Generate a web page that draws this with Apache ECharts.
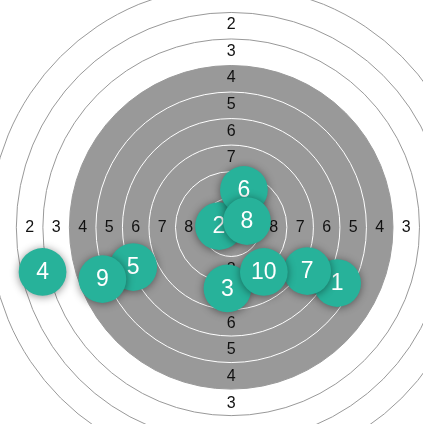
<!DOCTYPE html>
<html>
<head>
<meta charset="utf-8">
<script src="https://cdn.jsdelivr.net/npm/echarts@6/dist/echarts.min.js"></script>
<style>
html,body{margin:0;padding:0;background:#fff;}
#chart{width:423px;height:424px;}
</style>
</head>
<body>
<div id="chart"></div>
<script>
// Ring scores and their outer radii (mm, 10m air rifle target)
const ringScores = [1, 2, 3, 4, 5, 6, 7, 8, 9, 10];
const ringRadii = [22.75, 20.25, 17.75, 15.25, 12.75, 10.25, 7.75, 5.25, 2.75, 0.25];
// Ring number labels and the radius (mm) of each band's middle
const labelScores = [2, 3, 4, 5, 6, 7, 8];
const labelRadii = [19.0, 16.5, 14.0, 11.5, 9.0, 6.5, 4.0];
// Shots (mm from centre)
const shotIds = [1, 2, 3, 4, 5, 6, 7, 8, 9, 10];
const shotX = [9.99, -1.15, -0.35, -17.78, -9.23, 1.20, 7.17, 1.49, -12.14, 3.08];
const shotY = [-5.23, 0.12, -5.74, -4.19, -3.73, 3.50, -4.10, 0.59, -4.85, -4.19];
const pelletRadius = 2.25;

const FONT = '"Liberation Sans", Arial, sans-serif';
const GREY = '#999999';
const TEAL = '#27b29a';

const ringData = ringRadii.map((r, i) => [r, ringScores[i]]);
const labelData = [];
labelRadii.forEach((r, i) => {
  const s = labelScores[i];
  labelData.push([0, r, s], [0, -r, s], [-r, 0, s], [r, 0, s]);
});
const shotData = shotIds.map((id, i) => [shotX[i], shotY[i], id]);

const chart = echarts.init(document.getElementById('chart'), null, {renderer: 'canvas'});
chart.setOption({
  animation: false,
  grid: {left: 0, right: 0, top: 0, bottom: 0},
  xAxis: {type: 'value', min: -21.79, max: 18.08, show: false},
  yAxis: {type: 'value', min: -18.45, max: 21.32, show: false},
  series: [
    {
      type: 'custom',
      data: ringData,
      silent: true,
      clip: false,
      renderItem: function (params, api) {
        const c = api.coord([0, 0]);
        const rr = api.size([api.value(0), 0])[0];
        const score = api.value(1);
        const fill = score >= 4 ? GREY : '#ffffff';
        const stroke = score >= 5 ? '#ffffff' : GREY;
        return {
          type: 'circle',
          shape: {cx: c[0], cy: c[1], r: rr},
          style: {fill: fill, stroke: stroke, lineWidth: 1}
        };
      }
    },
    {
      type: 'custom',
      data: labelData,
      silent: true,
      clip: false,
      renderItem: function (params, api) {
        const p = api.coord([api.value(0), api.value(1)]);
        if (p[1] > api.getHeight() || p[0] > api.getWidth()) return null;
        return {
          type: 'text',
          x: p[0],
          y: p[1],
          style: {
            text: String(api.value(2)),
            fill: '#111111',
            font: '16px ' + FONT,
            align: 'center',
            verticalAlign: 'middle'
          }
        };
      }
    },
    {
      type: 'custom',
      data: shotData,
      clip: false,
      renderItem: function (params, api) {
        const p = api.coord([api.value(0), api.value(1)]);
        const rr = api.size([pelletRadius, 0])[0];
        return {
          type: 'group',
          children: [
            {
              type: 'circle',
              shape: {cx: p[0], cy: p[1], r: rr},
              style: {
                fill: TEAL,
                shadowBlur: 9,
                shadowColor: 'rgba(0,0,0,0.45)',
                shadowOffsetX: 0,
                shadowOffsetY: 1
              }
            },
            {
              type: 'text',
              x: p[0],
              y: p[1] + 1,
              style: {
                text: String(api.value(2)),
                fill: '#ffffff',
                font: '23px ' + FONT,
                align: 'center',
                verticalAlign: 'middle'
              }
            }
          ]
        };
      }
    }
  ]
});
</script>
</body>
</html>
